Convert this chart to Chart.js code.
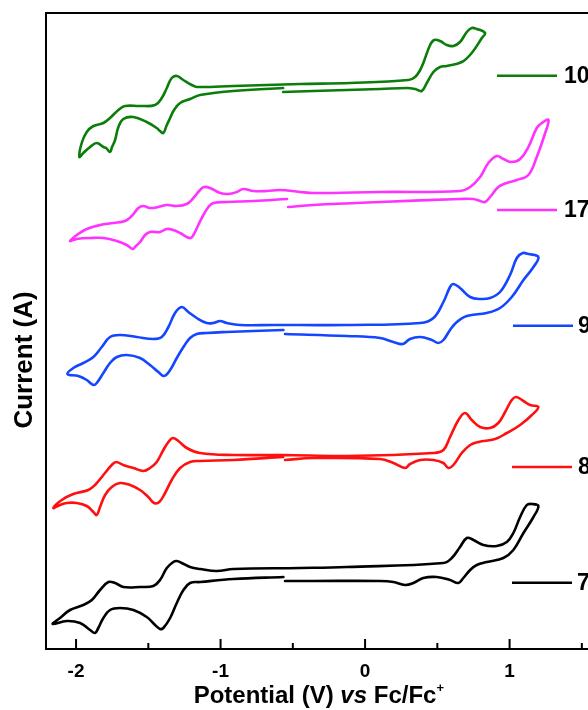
<!DOCTYPE html>
<html>
<head>
<meta charset="utf-8">
<script src="https://cdn.jsdelivr.net/npm/chart.js@4.4.0/dist/chart.umd.min.js"></script>
<style>
html,body{margin:0;padding:0;width:588px;height:710px;overflow:hidden;background:#fff;}
#wrap{width:640px;height:710px;}
canvas{display:block;}
</style>
</head>
<body>
<div id="wrap"><canvas id="c" width="640" height="710"></canvas></div>
<script>
// ---- data (potential in V vs Fc/Fc+, current in arbitrary offset units) ----
const compounds = ['10', '17', '9', '8', '7'];

const potential10 = [-0.567,-0.913,-1.142,-1.211,-1.280,-1.322,-1.349,-1.372,-1.396,-1.419,-1.442,-1.511,-1.603,-1.673,-1.707,-1.730,-1.751,-1.765,-1.792,-1.811,-1.857,-1.903,-1.950,-1.977,
  -1.961,-1.926,-1.880,-1.811,-1.765,-1.707,-1.661,-1.557,-1.453,-1.407,-1.372,-1.338,-1.303,-1.258,-1.199,-1.165,-0.911,-0.450,-0.104,0.300,0.346,0.381,0.403,0.450,0.478,0.519,0.565,0.611,0.657,0.704,0.738,0.773,0.830,
  0.808,0.738,0.669,0.565,0.519,0.473,0.427,0.392,0.346,0.289,0.104,-0.358,-0.567];
const current10 = [561,558,554,550,546,539,531,524,516,518,521,527,532,530,522,509,502,497,501,502,506,502,496,492,
  506,517,523,526,531,539,543,543,544,551,561,571,573,569,564,562,563,565,566,569,572,579,586,604,609,608,604,603,607,617,621,620,616,
  611,596,587,583,582,577,566,558,560,561,560,558,557];

const potential17 = [-0.540,-0.773,-0.957,-1.050,-1.084,-1.119,-1.154,-1.188,-1.206,-1.234,-1.280,-1.327,-1.372,-1.419,-1.453,-1.488,-1.522,-1.557,-1.592,-1.608,-1.649,-1.718,-1.811,-1.903,-1.995,-2.042,
  -1.995,-1.926,-1.834,-1.742,-1.661,-1.615,-1.569,-1.534,-1.488,-1.431,-1.372,-1.303,-1.234,-1.188,-1.142,-1.114,-1.073,-1.003,-0.946,-0.888,-0.842,-0.773,-0.680,-0.588,-0.450,-0.358,0.104,0.657,0.727,0.796,0.853,0.911,0.957,1.015,1.073,1.130,1.188,1.223,1.269,
  1.246,1.188,1.130,1.050,0.981,0.922,0.865,0.830,0.796,0.749,0.657,0.104,-0.358,-0.533];
const current17 = [450,448,447,446,442,434,424,414,411,412,416,419,420,417,417,417,414,407,402,400,404,408,411,411,410,408,
  414,420,424,426,428,433,441,443,441,442,444,443,445,451,459,462,461,456,455,457,460,458,458,459,457,456,457,458,462,472,486,493,490,487,490,502,521,526,529,
  516,492,474,469,466,462,452,447,448,450,450,447,444,442];

const potential9 = [-0.565,-0.773,-0.957,-1.096,-1.165,-1.211,-1.257,-1.303,-1.349,-1.391,-1.430,-1.488,-1.557,-1.649,-1.718,-1.765,-1.811,-1.857,-1.880,-1.926,-1.984,-2.060,
  -2.019,-1.950,-1.880,-1.822,-1.765,-1.696,-1.580,-1.465,-1.407,-1.361,-1.315,-1.269,-1.223,-1.165,-1.096,-1.050,-1.003,-0.957,-0.865,-0.635,-0.450,-0.127,0.381,0.473,0.542,0.588,0.611,0.657,0.727,0.796,0.865,0.934,1.003,1.050,1.091,1.130,1.199,
  1.165,1.096,1.015,0.934,0.842,0.704,0.635,0.588,0.542,0.507,0.462,0.381,0.311,0.261,0.196,0.104,-0.127,-0.554];
const current9 = [319,318,317,316,315,311,302,291,279,273,277,284,291,294,292,286,276,266,264,269,273,275,
  281,286,292,302,312,314,312,310,312,322,336,342,337,331,326,326,328,326,324,324,324,324,326,331,347,362,365,361,352,350,351,357,374,391,396,395,392,
  382,369,352,341,336,333,327,319,309,306,309,312,310,305,307,311,313,315];

const potential8 = [-0.567,-0.911,-1.142,-1.211,-1.280,-1.338,-1.384,-1.424,-1.460,-1.500,-1.557,-1.626,-1.696,-1.753,-1.799,-1.834,-1.857,-1.880,-1.926,-1.995,-2.064,-2.111,-2.157,
  -2.099,-2.019,-1.915,-1.869,-1.811,-1.753,-1.723,-1.673,-1.603,-1.534,-1.488,-1.442,-1.396,-1.361,-1.331,-1.292,-1.234,-1.142,-0.911,-0.565,-0.127,0.473,0.542,0.588,0.646,0.692,0.738,0.796,0.865,0.922,0.969,1.015,1.045,1.096,1.142,1.199,
  1.154,1.073,0.981,0.900,0.784,0.727,0.669,0.611,0.576,0.542,0.473,0.381,0.311,0.277,0.196,0.104,-0.358,-0.554];
const current8 = [192,189,188,187,181,169,156,147,146,152,159,164,166,162,154,142,134,137,143,146,146,144,141,
  149,155,159,164,174,184,187,184,181,178,181,187,199,207,211,208,201,196,194,194,193,196,199,212,229,236,229,222,221,226,237,249,252,248,244,242,
  234,224,216,210,207,204,196,184,181,186,189,189,185,181,186,190,191,189];

const potential7 = [-0.565,-0.911,-1.142,-1.211,-1.257,-1.303,-1.349,-1.396,-1.419,-1.453,-1.511,-1.603,-1.696,-1.765,-1.811,-1.846,-1.869,-1.903,-1.972,-2.064,-2.161,
  -2.111,-2.042,-1.950,-1.891,-1.834,-1.776,-1.730,-1.673,-1.557,-1.465,-1.419,-1.372,-1.327,-1.303,-1.269,-1.211,-1.142,-1.026,-0.911,-0.450,-0.127,0.542,0.600,0.657,0.704,0.750,0.819,0.911,0.981,1.026,1.073,1.119,1.154,1.199,
  1.165,1.096,1.026,0.957,0.842,0.773,0.727,0.680,0.646,0.588,0.496,0.403,0.334,0.277,0.196,0.104,-0.358,-0.554];
const current7 = [72,70,67,66,59,46,31,21,20,24,32,39,41,39,31,21,16,19,26,28,25,
  31,39,44,49,59,67,66,62,62,63,69,81,87,88,86,82,80,78,80,81,82,86,91,102,111,109,104,103,107,116,132,144,145,143,
  132,116,99,91,87,84,79,71,66,69,72,71,66,64,67,68,68,68];

const xTickValues = [-2, -1, 0, 1];
const xTickLabels = ['-2', '-1', '0', '1'];
const xMinorTickValues = [-1.5, -0.5, 0.5, 1.5];

// ---- styles ----
const lineColors = ['#0a7d0a', '#ff33ff', '#1446ff', '#ff1010', '#000000'];
const FONT = '"Liberation Sans", Arial, sans-serif';

const seriesPotential = [potential10, potential17, potential9, potential8, potential7];
const seriesCurrent = [current10, current17, current9, current8, current7];

const datasets = compounds.map((name, i) => ({
  label: name,
  data: seriesPotential[i].map((v, j) => ({ x: v, y: seriesCurrent[i][j] })),
  showLine: true,
  borderColor: lineColors[i],
  backgroundColor: lineColors[i],
  borderWidth: 2.6,
  pointRadius: 0,
  tension: 0.4,
  fill: false,
  borderJoinStyle: 'round',
  borderCapStyle: 'round'
}));

// legend placement (pixels)
const legendLayout = [
  { y: 75.7, x1: 497, x2: 557, tx: 564 },
  { y: 210,  x1: 497, x2: 557, tx: 564 },
  { y: 325.7, x1: 513, x2: 573, tx: 578 },
  { y: 467,  x1: 512, x2: 572, tx: 578 },
  { y: 582.7, x1: 512, x2: 572, tx: 577 }
];

const decor = {
  id: 'decor',
  afterDraw(chart) {
    const { ctx, chartArea: a, scales: { x } } = chart;
    ctx.save();
    // frame
    ctx.strokeStyle = '#000';
    ctx.lineWidth = 2;
    ctx.strokeRect(a.left, a.top, a.right - a.left, a.bottom - a.top);
    // inward ticks
    ctx.beginPath();
    xTickValues.forEach(v => { const p = x.getPixelForValue(v); ctx.moveTo(p, a.bottom); ctx.lineTo(p, a.bottom - 10); });
    xMinorTickValues.forEach(v => { const p = x.getPixelForValue(v); ctx.moveTo(p, a.bottom); ctx.lineTo(p, a.bottom - 6); });
    ctx.stroke();

    ctx.fillStyle = '#000';
    // y title
    ctx.save();
    ctx.translate(25, 360);
    ctx.rotate(-Math.PI / 2);
    ctx.font = 'bold 26px ' + FONT;
    ctx.textAlign = 'center';
    ctx.textBaseline = 'middle';
    ctx.fillText('Current (A)', 0, 0);
    ctx.restore();

    // x title (rich text)
    const parts = [
      { t: 'Potential (V) ', f: 'bold 24px ' + FONT, dy: 0 },
      { t: 'vs', f: 'italic bold 24px ' + FONT, dy: 0 },
      { t: ' Fc/Fc', f: 'bold 24px ' + FONT, dy: 0 },
      { t: '+', f: 'bold 13px ' + FONT, dy: -11 }
    ];
    let total = 0;
    parts.forEach(p => { ctx.font = p.f; p.w = ctx.measureText(p.t).width; total += p.w; });
    let cx = x.getPixelForValue(-0.32) - total / 2;
    ctx.textAlign = 'left';
    ctx.textBaseline = 'alphabetic';
    parts.forEach(p => { ctx.font = p.f; ctx.fillText(p.t, cx, 703 + p.dy); cx += p.w; });

    // legend
    ctx.lineWidth = 2.5;
    ctx.font = 'bold 23px ' + FONT;
    ctx.textBaseline = 'middle';
    compounds.forEach((name, i) => {
      const L = legendLayout[i];
      ctx.strokeStyle = lineColors[i];
      ctx.beginPath();
      ctx.moveTo(L.x1, L.y);
      ctx.lineTo(L.x2, L.y);
      ctx.stroke();
      ctx.fillStyle = '#000';
      ctx.fillText(name, L.tx, L.y + 1);
    });
    ctx.restore();
  }
};

new Chart(document.getElementById('c'), {
  type: 'scatter',
  data: { datasets },
  options: {
    responsive: false,
    animation: false,
    devicePixelRatio: 1,
    layout: { padding: { top: 13, right: 14.8, left: 0, bottom: 0 } },
    plugins: { legend: { display: false }, tooltip: { enabled: false } },
    scales: {
      x: {
        type: 'linear',
        min: -2.208,
        max: 1.8,
        position: 'bottom',
        afterBuildTicks: s => { s.ticks = xTickValues.map(v => ({ value: v })); },
        afterFit: s => { s.height = 61; },
        grid: { display: false, drawTicks: false },
        border: { display: false },
        ticks: {
          font: { family: FONT, size: 19, weight: 'bold' },
          color: '#000',
          padding: 11,
          maxRotation: 0,
          autoSkip: false,
          callback: (v, i) => xTickLabels[i]
        }
      },
      y: {
        type: 'linear',
        min: 0,
        max: 636,
        afterFit: s => { s.width = 46; },
        ticks: { display: false },
        grid: { display: false, drawTicks: false },
        border: { display: false }
      }
    }
  },
  plugins: [decor]
});
</script>
</body>
</html>
